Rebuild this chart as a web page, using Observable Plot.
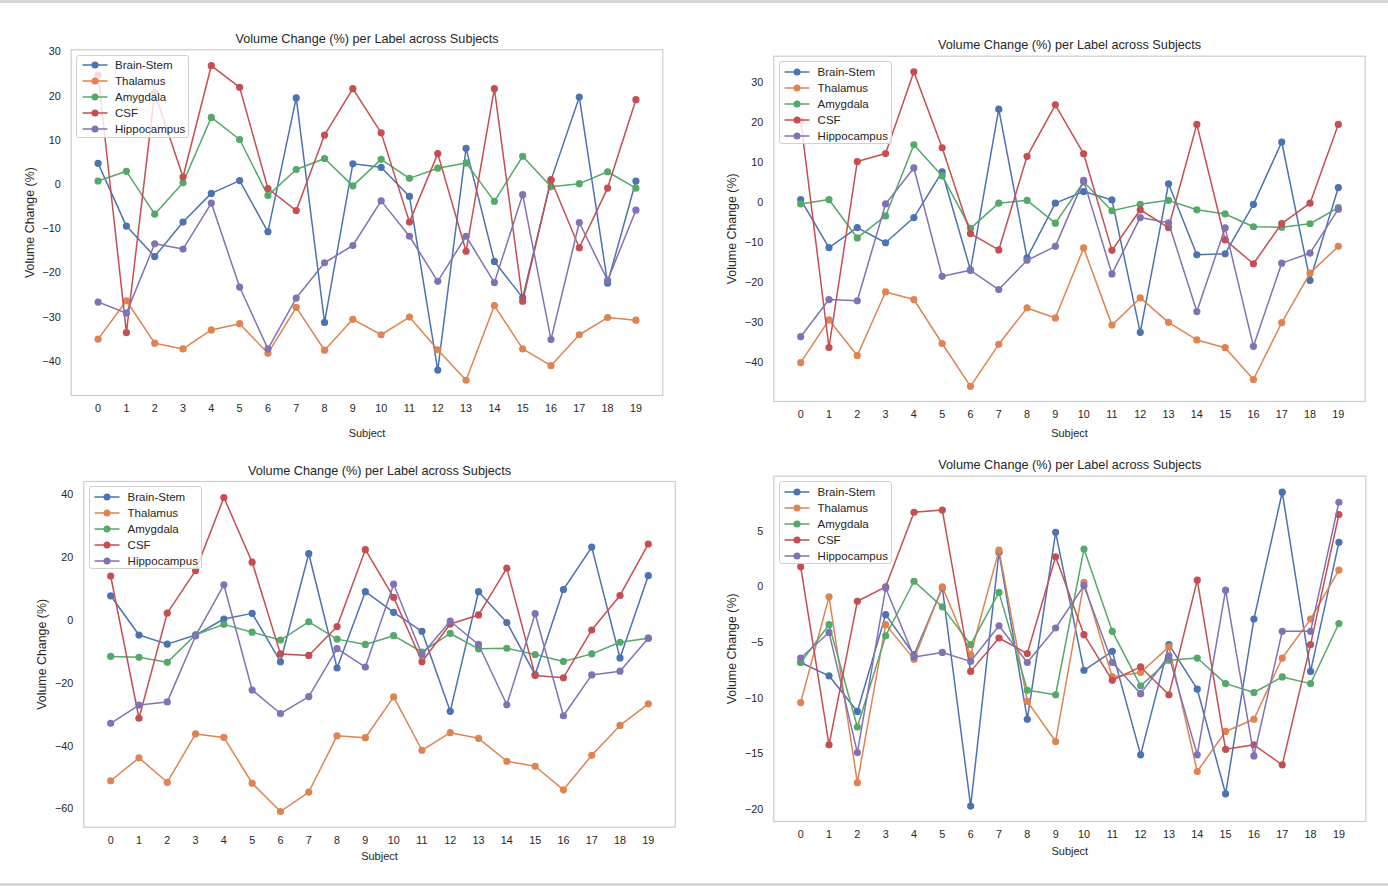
<!DOCTYPE html>
<html>
<head>
<meta charset="utf-8">
<script src="https://cdn.jsdelivr.net/npm/d3@7"></script>
<script src="https://cdn.jsdelivr.net/npm/@observablehq/plot@0.6"></script>
<style>
  html, body { margin: 0; padding: 0; background: #ffffff; }
  body { font-family: "Liberation Sans", Arial, Helvetica, sans-serif; }
  #page { position: relative; width: 1388px; height: 886px; overflow: hidden; background: #ffffff; }
  .strip { position: absolute; left: 0; width: 1388px; background: #d6d6d6; }
  .panel { position: absolute; }
  .panel svg { overflow: visible; }
  .legend { position: absolute; width: 113px; height: 83px; border: 1px solid #d0d0d0; border-radius: 3px;
            background: rgba(255,255,255,0.8); box-sizing: border-box; }
  .legend .row { position: absolute; left: 0; height: 14px; transform: translateY(-50%); white-space: nowrap; }
  .legend .row svg { position: absolute; left: 3.8px; top: 2px; }
  .legend .row span { position: absolute; left: 38px; top: 0; line-height: 14px; font-size: 11.5px; color: #262626; }
</style>
</head>
<body>
<div id="page">
  <div class="strip" style="top:0;height:3px"></div>
  <div class="strip" style="top:883px;height:3px"></div>
</div>
<script>
// ---------- data ----------
const subjects = [0, 1, 2, 3, 4, 5, 6, 7, 8, 9, 10, 11, 12, 13, 14, 15, 16, 17, 18, 19];
const labels = ["Brain-Stem", "Thalamus", "Amygdala", "CSF", "Hippocampus"];
const palette = ["#4C72B0", "#DD8452", "#55A868", "#C44E52", "#8172B3"];
const titleText = "Volume Change (%) per Label across Subjects";
const xLabel = "Subject";
const yLabel = "Volume Change (%)";

// Panel 1 (top-left)
const p1BrainStem   = [4.8, -9.4, -16.3, -8.5, -2.0, 0.9, -10.7, 19.6, -31.2, 4.7, 3.9, -2.7, -42.0, 8.2, -17.4, -25.6, 1.0, 19.8, -22.3, 0.8];
const p1Thalamus    = [-35.0, -26.3, -35.9, -37.2, -32.9, -31.5, -38.2, -27.8, -37.5, -30.5, -34.0, -30.0, -37.4, -44.3, -27.4, -37.2, -41.0, -34.0, -30.1, -30.7];
const p1Amygdala    = [0.8, 3.0, -6.7, 0.4, 15.2, 10.2, -2.5, 3.4, 5.9, -0.3, 5.7, 1.4, 3.7, 4.9, -3.8, 6.4, -0.5, 0.2, 2.9, -0.8];
const p1CSF         = [24.8, -33.5, 20.8, 1.7, 26.9, 22.0, -0.9, -5.9, 11.2, 21.7, 11.7, -8.5, 7.0, -15.1, 21.7, -26.4, 1.1, -14.3, -0.8, 19.2];
const p1Hippocampus = [-26.6, -29.1, -13.4, -14.6, -4.2, -23.2, -37.2, -25.7, -17.7, -13.8, -3.7, -11.7, -21.9, -11.7, -22.2, -2.3, -35.1, -8.6, -21.7, -5.8];
const p1YTicks = [-40, -30, -20, -10, 0, 10, 20, 30];

// Panel 2 (top-right)
const p2BrainStem   = [0.8, -11.2, -6.2, -10.0, -3.7, 7.7, -16.8, 23.4, -13.8, -0.1, 2.8, 0.7, -32.4, 4.75, -13.0, -12.75, -0.4, 15.2, -19.4, 3.8];
const p2Thalamus    = [-40.0, -29.3, -38.2, -22.3, -24.2, -35.2, -45.9, -35.4, -26.3, -28.8, -11.3, -30.6, -23.8, -29.9, -34.3, -36.25, -44.2, -30.0, -17.6, -10.9];
const p2Amygdala    = [-0.3, 0.8, -8.8, -3.3, 14.5, 6.7, -6.4, -0.1, 0.6, -5.1, 5.2, -2.0, -0.4, 0.6, -1.75, -2.8, -6.0, -6.1, -5.25, -1.2];
const p2CSF         = [20.6, -36.2, 10.3, 12.3, 32.75, 13.75, -7.7, -11.8, 11.6, 24.5, 12.25, -11.9, -1.75, -6.2, 19.6, -9.3, -15.25, -5.2, -0.1, 19.6];
const p2Hippocampus = [-33.5, -24.2, -24.5, -0.3, 8.7, -18.4, -16.9, -21.7, -14.4, -10.9, 5.6, -17.8, -3.7, -5.0, -27.2, -6.3, -35.9, -15.1, -12.6, -1.6];
const p2YTicks = [-40, -30, -20, -10, 0, 10, 20, 30];

// Panel 3 (bottom-left)
const p3BrainStem   = [7.9, -4.6, -7.5, -4.6, 0.5, 2.3, -13.1, 21.3, -15.1, 9.2, 2.65, -3.4, -28.9, 9.2, -0.6, -17.2, 9.9, 23.4, -11.9, 14.3];
const p3Thalamus    = [-51.0, -43.7, -51.5, -36.1, -37.2, -51.8, -60.8, -54.6, -36.7, -37.3, -24.3, -41.3, -35.7, -37.5, -44.8, -46.4, -53.9, -42.9, -33.4, -26.5];
const p3Amygdala    = [-11.4, -11.7, -13.3, -4.5, -1.2, -3.7, -6.2, -0.4, -5.9, -7.6, -4.8, -10.0, -4.1, -9.0, -8.8, -10.8, -13.0, -10.6, -6.9, -5.6];
const p3CSF         = [14.2, -31.1, 2.4, 15.9, 39.2, 18.6, -10.6, -11.1, -1.9, 22.6, 7.4, -13.1, -1.1, 1.8, 16.7, -17.5, -18.2, -3.0, 8.0, 24.4];
const p3Hippocampus = [-32.7, -26.9, -25.9, -4.9, 11.4, -22.1, -29.6, -24.2, -8.9, -14.8, 11.6, -10.8, -0.2, -7.6, -26.8, 2.2, -30.3, -17.3, -16.1, -5.6];
const p3YTicks = [-60, -40, -20, 0, 20, 40];

// Panel 4 (bottom-right)
const p4BrainStem   = [-6.8, -8.0, -11.2, -2.5, -6.1, -0.1, -19.7, 3.1, -11.9, 4.9, -7.5, -5.8, -15.1, -5.2, -9.2, -18.6, -2.9, 8.5, -7.6, 4.0];
const p4Thalamus    = [-10.4, -0.9, -17.6, -3.4, -6.5, 0.0, -6.1, 3.3, -10.3, -13.9, 0.4, -8.1, -7.7, -5.4, -16.6, -13.0, -11.9, -6.4, -2.9, 1.5];
const p4Amygdala    = [-6.8, -3.4, -12.6, -4.4, 0.5, -1.8, -5.2, -0.5, -9.3, -9.7, 3.4, -4.0, -8.9, -6.6, -6.4, -8.7, -9.5, -8.1, -8.7, -3.3];
const p4CSF         = [1.8, -14.2, -1.3, 0.0, 6.7, 6.9, -7.6, -4.6, -6.0, 2.7, -4.3, -8.4, -7.2, -9.7, 0.6, -14.6, -14.2, -16.0, -5.2, 6.5];
const p4Hippocampus = [-6.4, -4.1, -14.9, -0.1, -6.3, -5.9, -6.7, -3.5, -6.8, -3.7, 0.1, -6.8, -9.6, -6.2, -15.1, -0.3, -15.2, -4.0, -4.0, 7.6];
const p4YTicks = [-20, -15, -10, -5, 0, 5];

// ---------- layout ----------
const panels = [
  { series: [p1BrainStem, p1Thalamus, p1Amygdala, p1CSF, p1Hippocampus], yTicks: p1YTicks, yDomain: [-47.75, 30.5],
    box: { left: 0, top: 20, width: 694, height: 430 }, frame: { x0: 70.7, x1: 662.3, y0: 49.3, y1: 395 }, subjDy: 38.3, titleDy: -11 },
  { series: [p2BrainStem, p2Thalamus, p2Amygdala, p2CSF, p2Hippocampus], yTicks: p2YTicks, yDomain: [-49.7, 36.65],
    box: { left: 694, top: 20, width: 694, height: 430 }, frame: { x0: 773.3, x1: 1364.7, y0: 55.7, y1: 401 }, subjDy: 32, titleDy: -11 },
  { series: [p3BrainStem, p3Thalamus, p3Amygdala, p3CSF, p3Hippocampus], yTicks: p3YTicks, yDomain: [-65.8, 44.3],
    box: { left: 0, top: 450, width: 694, height: 433 }, frame: { x0: 83.3, x1: 674.7, y0: 481, y1: 826.7 }, subjDy: 29.5, titleDy: -10.7 },
  { series: [p4BrainStem, p4Thalamus, p4Amygdala, p4CSF, p4Hippocampus], yTicks: p4YTicks, yDomain: [-21.09, 9.94],
    box: { left: 694, top: 450, width: 694, height: 433 }, frame: { x0: 773.3, x1: 1365.3, y0: 475.7, y1: 821 }, subjDy: 29.7, titleDy: -11 }
];

const page = document.getElementById("page");

function drawPanel(p) {
  const b = p.box, f = p.frame;
  const marks = [Plot.frame({ stroke: "#cccccc", strokeWidth: 1.2 })];
  labels.forEach((lab, i) => {
    const rows = subjects.map((s, j) => ({ subject: s, value: p.series[i][j], label: lab }));
    marks.push(Plot.line(rows, { x: "subject", y: "value", stroke: palette[i], strokeWidth: 1.5 }));
    marks.push(Plot.dot(rows, { x: "subject", y: "value", fill: palette[i], r: 3.6 }));
  });
  marks.push(Plot.text([titleText], { text: d => d, frameAnchor: "top", lineAnchor: "middle", textAnchor: "middle", dy: p.titleDy, fontSize: 12.7, fill: "#262626" }));
  marks.push(Plot.text([xLabel], { text: d => d, frameAnchor: "bottom", lineAnchor: "middle", textAnchor: "middle", dy: p.subjDy, fontSize: 11, fill: "#262626" }));
  marks.push(Plot.text([yLabel], { text: d => d, frameAnchor: "left", lineAnchor: "middle", textAnchor: "middle", dx: -41.5, rotate: -90, fontSize: 12.4, fill: "#262626" }));

  const chart = Plot.plot({
    width: b.width,
    height: b.height,
    marginLeft: f.x0 - b.left,
    marginRight: b.left + b.width - f.x1,
    marginTop: f.y0 - b.top,
    marginBottom: b.top + b.height - f.y1,
    style: { fontFamily: "'Liberation Sans', Arial, sans-serif", fontSize: "10.8px", color: "#262626", background: "transparent" },
    x: { type: "linear", domain: [-0.95, 19.95], ticks: subjects, tickFormat: d => String(d), tickSize: 0, tickPadding: 9, label: null },
    y: { domain: p.yDomain, ticks: p.yTicks, tickSize: 0, tickPadding: 10.5, label: null },
    marks
  });
  const holder = document.createElement("div");
  holder.className = "panel";
  holder.style.left = b.left + "px";
  holder.style.top = b.top + "px";
  holder.appendChild(chart);
  page.appendChild(holder);

  // legend
  const lg = document.createElement("div");
  lg.className = "legend";
  lg.style.left = (f.x0 + 5.3) + "px";
  lg.style.top = (f.y0 + 5.4) + "px";
  labels.forEach((lab, i) => {
    const row = document.createElement("div");
    row.className = "row";
    row.style.top = (9.6 + 16 * i) + "px";
    row.innerHTML = `<svg width="28" height="10"><line x1="1.5" x2="26.5" y1="5" y2="5" stroke="${palette[i]}" stroke-width="1.5"/><circle cx="14" cy="5" r="3.5" fill="${palette[i]}"/></svg><span>${lab}</span>`;
    lg.appendChild(row);
  });
  page.appendChild(lg);
}

panels.forEach(drawPanel);
</script>
</body>
</html>
